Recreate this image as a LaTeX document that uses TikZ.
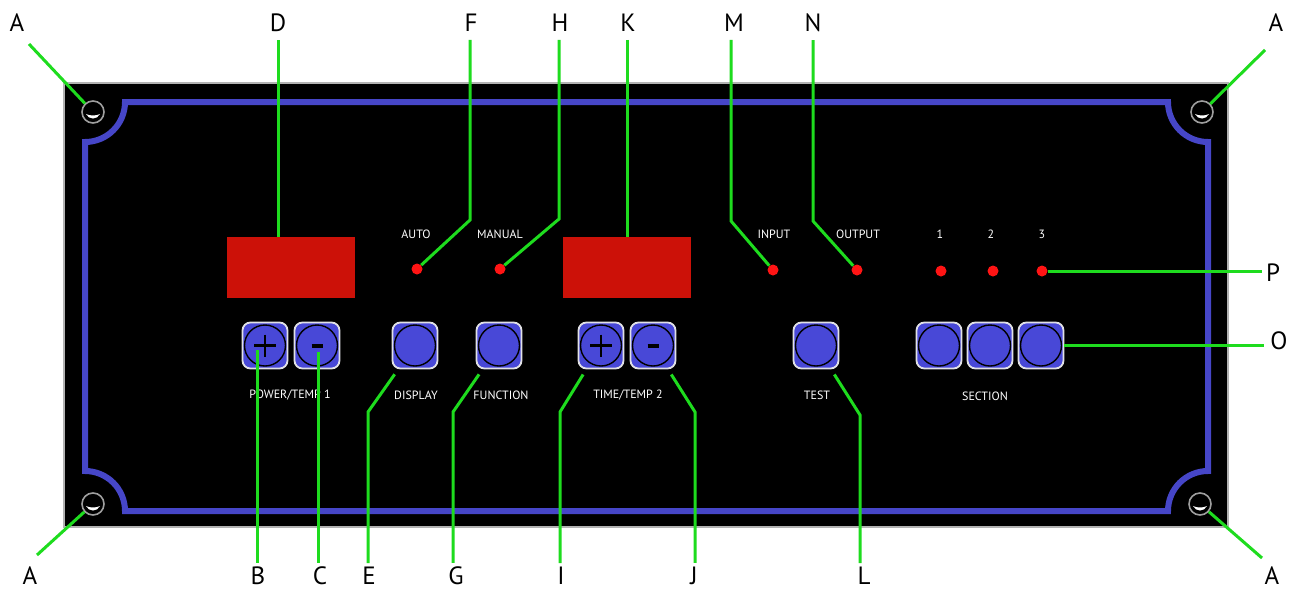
\documentclass[tikz,border=0pt]{standalone}
\usepackage{fontspec}
\setmainfont{PT Sans}
\usetikzlibrary{calc}
\definecolor{rimblue}{RGB}{70,70,200}
\definecolor{btnblue}{RGB}{72,72,215}
\definecolor{btnedge}{RGB}{225,225,230}
\definecolor{dispred}{RGB}{204,17,8}
\definecolor{ledred}{RGB}{255,20,20}
\definecolor{leadgreen}{RGB}{30,220,30}
\begin{document}
\begin{tikzpicture}[x=1pt,y=-1pt,
  lead/.style={draw=leadgreen,line width=3pt},
  letter/.style={font=\fontsize{25}{25}\selectfont,inner sep=0pt,text=black},
  lbl/.style={font=\fontsize{12}{12}\selectfont,text=white,inner sep=0pt},
  btn/.style={draw=btnedge,fill=btnblue,line width=1.8pt,rounded corners=8pt,minimum width=45pt,minimum height=46pt,inner sep=0pt},
  ring/.style={circle,draw=black,line width=1.4pt,minimum size=41pt,inner sep=0pt},
  led/.style={circle,fill=ledred,minimum size=11pt,inner sep=0pt},
  disp/.style={fill=dispred,minimum width=128pt,minimum height=61pt,inner sep=0pt},
  screw/.style={circle,draw=gray!75,line width=1.6pt,minimum size=22pt,inner sep=0pt},
  sign/.style={line width=2.8pt,draw=black}
]
\useasboundingbox (0,0) rectangle (1293,592);
\fill[white] (0,0) rectangle (1293,592);
% panel
\draw[fill=black,draw=gray!60,line width=2pt] (64,83) rectangle (1228,527);
% blue rim
\draw[rimblue,line width=6pt] (125,102) -- (1168,102)
  arc[start angle=180,end angle=90,radius=40] -- (1208,471)
  arc[start angle=270,end angle=180,radius=40] -- (125,511)
  arc[start angle=0,end angle=-90,radius=40] -- (85,142)
  arc[start angle=90,end angle=0,radius=40] -- cycle;
% screws
\node[screw] (scr1) at (93,112) {};
\node[screw] (scr2) at (1202,112) {};
\node[screw] (scr3) at (93,504) {};
\node[screw] (scr4) at (1200,504) {};
\foreach \s in {scr1,scr2,scr3,scr4}{
  \fill[white] ($(\s)+(-7,2)$) .. controls ($(\s)+(-4,8)$) and ($(\s)+(4,8)$) .. ($(\s)+(7,2)$)
    .. controls ($(\s)+(3,4)$) and ($(\s)+(-3,4)$) .. cycle;
}
% displays
\node[disp] (dsp1) at (291,267.5) {};
\node[disp] (dsp2) at (627,267.5) {};
% LEDs
\node[led] (ledA) at (417,269) {};
\node[led] (ledM) at (500,269) {};
\node[led] (ledI) at (773,270) {};
\node[led] (ledO) at (857,270) {};
\node[led] (led1) at (941,271) {};
\node[led] (led2) at (993,271) {};
\node[led] (led3) at (1042,271) {};
% buttons
\foreach \n/\x in {bp1/265,bm1/317,bdisp/415,bfunc/499,bp2/601,bm2/653,btest/816,bs1/939,bs2/990,bs3/1041}{
  \node[btn] (\n) at (\x,345.5) {};
  \node[ring] (\n r) at (\n) {};
}
\foreach \n in {bp1,bp2}{
  \draw[sign] ($(\n)+(-11,0)$) -- ($(\n)+(11,0)$);
  \draw[sign] ($(\n)+(0,-11)$) -- ($(\n)+(0,11)$);
}
\foreach \n in {bm1,bm2}{
  \draw[line width=3.5pt,draw=black] ($(\n)+(-5.5,0.5)$) -- ($(\n)+(5.5,0.5)$);
}
% small labels
\node[lbl] (tAuto) at (416,234) {AUTO};
\node[lbl] (tMan) at (500,234) {MANUAL};
\node[lbl] (tIn) at (774,234) {INPUT};
\node[lbl] (tOut) at (858,234) {OUTPUT};
\node[lbl] (t1) at (940,234) {1};
\node[lbl] (t2) at (991,234) {2};
\node[lbl] (t3) at (1042,234) {3};
\node[lbl] (tPow) at (290,395) {POWER/TEMP 1};
\node[lbl] (tDisp) at (416,395) {DISPLAY};
\node[lbl] (tFunc) at (501,395) {FUNCTION};
\node[lbl] (tTime) at (628,395) {TIME/TEMP 2};
\node[lbl] (tTest) at (817,395) {TEST};
\node[lbl] (tSect) at (985,396) {SECTION};
% letters
\node[letter] (A1) at (17,23) {A};
\node[letter] (A2) at (1276,23) {A};
\node[letter] (A3) at (30,576) {A};
\node[letter] (A4) at (1272,576) {A};
\node[letter] (D) at (278,23) {D};
\node[letter] (F) at (471,23) {F};
\node[letter] (H) at (560,23) {H};
\node[letter] (K) at (628,23) {K};
\node[letter] (M) at (734,23) {M};
\node[letter] (N) at (813,23) {N};
\node[letter] (P) at (1273,273) {P};
\node[letter] (O) at (1279,341) {O};
\node[letter] (B) at (258,576) {B};
\node[letter] (C) at (320,576) {C};
\node[letter] (E) at (369,576) {E};
\node[letter] (G) at (456,576) {G};
\node[letter] (I) at (561,576) {I};
\node[letter] (J) at (694,576) {J};
\node[letter] (L) at (864,576) {L};
% bend / end coordinates
\coordinate (a1e) at (29,44);
\coordinate (a2e) at (1265,50);
\coordinate (a3e) at (37,555);
\coordinate (a4e) at (1262,558);
\coordinate (Db) at (278,237);
\coordinate (Fb) at (470,220);
\coordinate (Hb) at (559,219);
\coordinate (Kb) at (627,237);
\coordinate (Mb) at (731,221);
\coordinate (Nb) at (813,221);
\coordinate (Bb) at (257,350);
\coordinate (Cb) at (318,352);
\coordinate (Eb) at (368,412);
\coordinate (Gb) at (453,412);
\coordinate (Ib) at (560,412);
\coordinate (Jb) at (695,412);
\coordinate (Lb) at (860,415);
% leaders
\draw[lead] (a1e) -- (scr1);
\draw[lead] (a2e) -- (scr2);
\draw[lead] (a3e) -- (scr3);
\draw[lead] (a4e) -- (scr4);
\draw[lead,shorten <=8pt] (D.south -| Db) -- (Db);
\draw[lead,shorten <=8pt] (F.south -| Fb) -- (Fb) -- (ledA);
\draw[lead,shorten <=8pt] (H.south -| Hb) -- (Hb) -- (ledM);
\draw[lead,shorten <=8pt] (K.south -| Kb) -- (Kb);
\draw[lead,shorten <=8pt] (M.south -| Mb) -- (Mb) -- (ledI);
\draw[lead,shorten <=8pt] (N.south -| Nb) -- (Nb) -- (ledO);
\draw[lead,shorten >=4pt] (led3) -- (led3 -| P.west);
\draw[lead,shorten >=6pt] (bs3) -- (bs3 -| O.west);
\draw[lead,shorten <=4pt] (B.north -| Bb) -- (Bb);
\draw[lead,shorten <=4pt] (C.north -| Cb) -- (Cb);
\draw[lead,shorten <=4pt,shorten >=6pt] (E.north -| Eb) -- (Eb) -- (bdisp);
\draw[lead,shorten <=4pt,shorten >=6pt] (G.north -| Gb) -- (Gb) -- (bfunc);
\draw[lead,shorten <=4pt,shorten >=6pt] (I.north -| Ib) -- (Ib) -- (bp2);
\draw[lead,shorten <=4pt,shorten >=6pt] (J.north -| Jb) -- (Jb) -- (bm2);
\draw[lead,shorten <=4pt,shorten >=6pt] (L.north -| Lb) -- (Lb) -- (btest);
\end{tikzpicture}
\end{document}
